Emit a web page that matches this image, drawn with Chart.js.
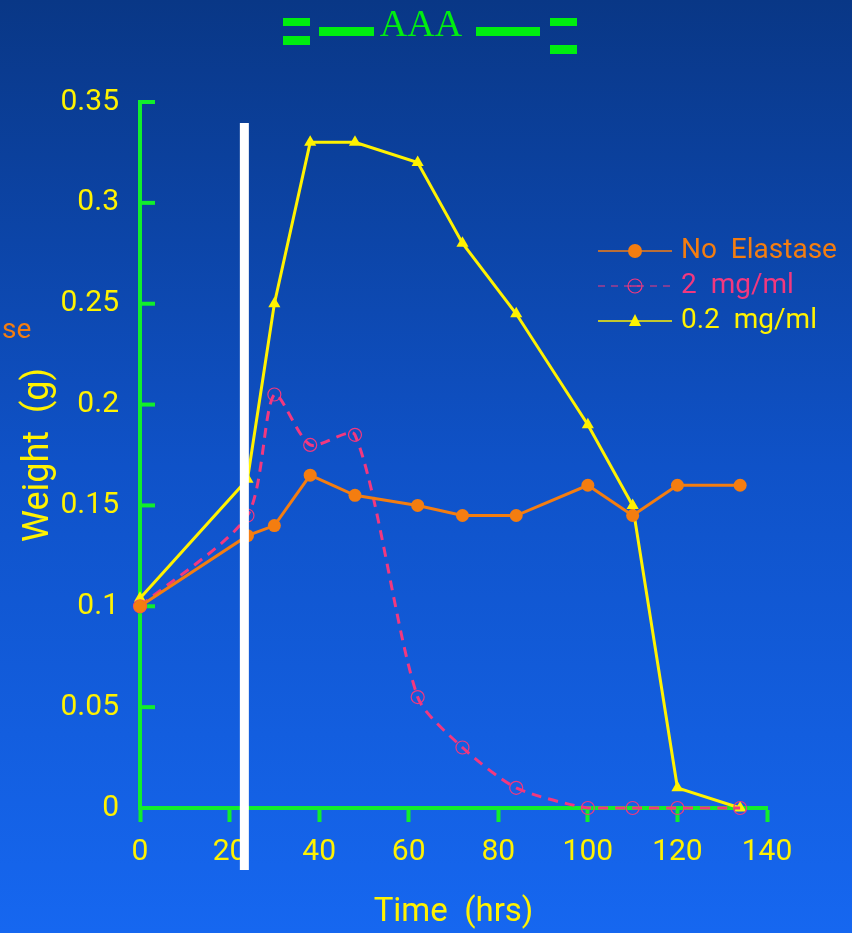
<!DOCTYPE html>
<html>
<head>
<meta charset="utf-8">
<script src="https://cdn.jsdelivr.net/npm/chart.js@4.4.1/dist/chart.umd.min.js"></script>
<style>
  html, body { margin: 0; padding: 0; }
  body {
    width: 852px;
    height: 933px;
    overflow: hidden;
    background: linear-gradient(to bottom, #093786 0%, #0f52c8 50%, #1667f0 100%);
  }
  #wrap { position: relative; width: 852px; height: 933px; }
  #weightChart { display: block; width: 852px; height: 933px; }
</style>
</head>
<body>
<div id="wrap"><canvas id="weightChart" width="852" height="933"></canvas></div>
<script>
// time points (hrs) and weights (g)
const timeHrs = [0, 24, 30, 38, 48, 62, 72, 84, 100, 110, 120, 134];
const noElastase = [0.1, 0.135, 0.14, 0.165, 0.155, 0.15, 0.145, 0.145, 0.16, 0.145, 0.16, 0.16];
const mg2 = [0.1, 0.145, 0.205, 0.18, 0.185, 0.055, 0.03, 0.01, 0, 0, 0, 0];
const mg02 = [0.104, 0.163, 0.25, 0.33, 0.33, 0.32, 0.28, 0.245, 0.19, 0.15, 0.01, 0];
const seriesLabels = ["No  Elastase", "2  mg/ml", "0.2  mg/ml"];
const xTickValues = [0, 20, 40, 60, 80, 100, 120, 140];
const yTickValues = [0, 0.05, 0.1, 0.15, 0.2, 0.25, 0.3, 0.35];
const markerTime = 23.3;

const axisGreen = "#12ee2c";
const orange = "#f47d10";
const pink = "#f2387f";
const yellow = "#fff200";
const labelFont = "Roboto";

function toPoints(values) {
  return timeHrs.map((t, i) => ({ x: t, y: values[i] }));
}

const decorPlugin = {
  id: "decor",
  beforeDatasetsDraw(chart) {
    const { ctx, chartArea, scales } = chart;
    ctx.save();
    ctx.strokeStyle = axisGreen;
    ctx.lineWidth = 4;
    yTickValues.forEach((v) => {
      const py = scales.y.getPixelForValue(v);
      ctx.beginPath();
      ctx.moveTo(chartArea.left, py);
      ctx.lineTo(chartArea.left + 15, py);
      ctx.stroke();
    });
    ctx.restore();
  },
  afterDraw(chart) {
    const { ctx, chartArea, scales } = chart;
    ctx.save();

    // white marker bar
    const bx = scales.x.getPixelForValue(markerTime);
    ctx.fillStyle = "#ffffff";
    ctx.fillRect(bx - 4.5, chartArea.top + 21, 9, chartArea.bottom - chartArea.top + 41);

    // title with green bars
    ctx.fillStyle = "#00ee10";
    ctx.fillRect(283, 18, 27, 8);
    ctx.fillRect(283, 36, 27, 9);
    ctx.fillRect(319, 27, 55, 9);
    ctx.fillRect(476, 27, 64, 9);
    ctx.fillRect(550, 18, 27, 8);
    ctx.fillRect(550, 45, 27, 9);
    ctx.font = "38px 'Liberation Serif'";
    ctx.textAlign = "center";
    ctx.textBaseline = "alphabetic";
    ctx.fillText("AAA", 421, 36);

    // cut-off text at left edge
    ctx.fillStyle = orange;
    ctx.font = "28px '" + labelFont + "'";
    ctx.textAlign = "left";
    ctx.textBaseline = "middle";
    ctx.fillText("se", 2, 331);

    // legend
    const lx = 598, lineLen = 74, tx = 681;
    chart.data.datasets.forEach((ds, i) => {
      const ly = 251 + i * 35;
      ctx.strokeStyle = ds.borderColor;
      ctx.lineWidth = i === 1 ? 1.2 : 1.5;
      ctx.setLineDash(i === 1 ? [7, 6] : []);
      ctx.beginPath();
      ctx.moveTo(lx, ly);
      ctx.lineTo(lx + lineLen, ly);
      ctx.stroke();
      ctx.setLineDash([]);
      const mx = lx + lineLen / 2;
      if (i === 0) {
        ctx.fillStyle = orange;
        ctx.beginPath();
        ctx.arc(mx, ly, 7, 0, Math.PI * 2);
        ctx.fill();
      } else if (i === 1) {
        ctx.strokeStyle = pink;
        ctx.lineWidth = 1.2;
        ctx.beginPath();
        ctx.arc(mx, ly, 7, 0, Math.PI * 2);
        ctx.stroke();
        ctx.beginPath();
        ctx.moveTo(mx - 5, ly);
        ctx.lineTo(mx + 5, ly);
        ctx.stroke();
      } else {
        ctx.fillStyle = yellow;
        ctx.beginPath();
        ctx.moveTo(mx, ly - 7);
        ctx.lineTo(mx + 6, ly + 5);
        ctx.lineTo(mx - 6, ly + 5);
        ctx.closePath();
        ctx.fill();
      }
      ctx.fillStyle = ds.borderColor;
      ctx.font = "28px '" + labelFont + "'";
      ctx.textAlign = "left";
      ctx.textBaseline = "middle";
      ctx.fillText(ds.label, tx, ly);
    });

    ctx.restore();
  },
};

const ctx = document.getElementById("weightChart").getContext("2d");

new Chart(ctx, {
  type: "line",
  data: {
    datasets: [
      {
        label: seriesLabels[0],
        data: toPoints(noElastase),
        borderColor: orange,
        backgroundColor: orange,
        borderWidth: 3,
        pointStyle: "circle",
        pointRadius: 6.5,
        pointBackgroundColor: orange,
        pointBorderWidth: 0,
        tension: 0,
        clip: false,
      },
      {
        label: seriesLabels[1],
        data: toPoints(mg2),
        borderColor: pink,
        backgroundColor: "transparent",
        borderWidth: 3,
        borderDash: [10, 7],
        pointStyle: "circle",
        pointRadius: 6.5,
        pointBackgroundColor: "rgba(0,0,0,0)",
        pointBorderColor: pink,
        pointBorderWidth: 1.2,
        tension: 0.25,
        clip: false,
      },
      {
        label: seriesLabels[2],
        data: toPoints(mg02),
        borderColor: yellow,
        backgroundColor: yellow,
        borderWidth: 3,
        pointStyle: "triangle",
        pointRadius: 7,
        pointBackgroundColor: yellow,
        pointBorderWidth: 0,
        tension: 0,
        clip: false,
      },
    ],
  },
  options: {
    responsive: false,
    animation: false,
    events: [],
    layout: { padding: { top: 102, right: 85, bottom: 0, left: 0 } },
    plugins: {
      legend: { display: false },
      tooltip: { enabled: false },
    },
    scales: {
      x: {
        type: "linear",
        min: 0,
        max: 140,
        afterBuildTicks: (scale) => {
          scale.ticks = xTickValues.map((v) => ({ value: v }));
        },
        afterFit: (scale) => {
          scale.height = 125;
        },
        border: { display: true, color: axisGreen, width: 4 },
        grid: {
          drawOnChartArea: false,
          drawTicks: true,
          tickLength: 14,
          tickWidth: 4,
          tickColor: axisGreen,
        },
        ticks: {
          color: yellow,
          padding: 12,
          autoSkip: false,
          maxRotation: 0,
          font: { family: labelFont, size: 30 },
          callback: (v) => String(v),
        },
        title: {
          display: true,
          text: "Time  (hrs)",
          color: yellow,
          font: { family: labelFont, size: 33 },
          padding: { top: 0, bottom: 0 },
        },
      },
      y: {
        type: "linear",
        min: 0,
        max: 0.35,
        afterBuildTicks: (scale) => {
          scale.ticks = yTickValues.map((v) => ({ value: v }));
        },
        afterFit: (scale) => {
          scale.width = 140;
        },
        border: { display: true, color: axisGreen, width: 4 },
        grid: { drawOnChartArea: false, drawTicks: false },
        ticks: {
          color: yellow,
          padding: 21,
          autoSkip: false,
          font: { family: labelFont, size: 30 },
          callback: (v) => String(+v.toFixed(2)),
        },
        title: {
          display: true,
          text: "Weight  (g)",
          color: yellow,
          font: { family: labelFont, size: 36 },
          padding: { top: 17, bottom: 0 },
        },
      },
    },
  },
  plugins: [decorPlugin],
});
</script>
</body>
</html>
